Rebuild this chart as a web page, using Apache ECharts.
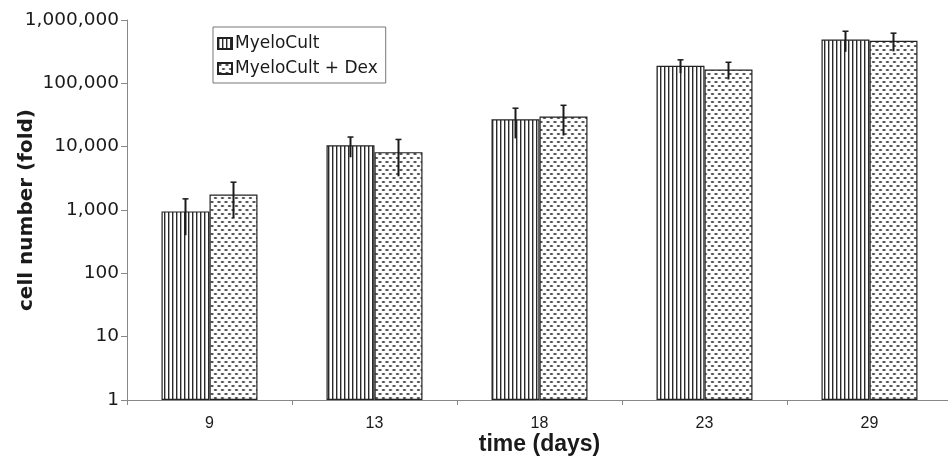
<!DOCTYPE html>
<html>
<head>
<meta charset="utf-8">
<script src="https://cdn.jsdelivr.net/npm/echarts@6/dist/echarts.min.js"></script>
<style>
html,body{margin:0;padding:0;background:#fff;}
#chart{width:948px;height:458px;}
</style>
</head>
<body>
<div id="chart"></div>
<script>
// ---- data ----
var categories = ['9', '13', '18', '23', '29'];
var seriesNames = ['MyeloCult', 'MyeloCult + Dex'];
var myeloCult = [950, 10500, 27000, 190000, 490000];
var myeloCultErr = [550, 3700, 13500, 45000, 175000];
var myeloCultDex = [1750, 8200, 30000, 165000, 470000];
var myeloCultDexErr = [1000, 4800, 15000, 50000, 150000];
var yTicks = [1, 10, 100, 1000, 10000, 100000, 1000000];

// ---- patterns ----
function stripePattern() {
  var c = document.createElement('canvas');
  c.width = 4; c.height = 8;
  var g = c.getContext('2d');
  g.fillStyle = '#ffffff'; g.fillRect(0, 0, 4, 8);
  g.fillStyle = '#2a2a2a'; g.fillRect(0, 0, 1.4, 8);
  return c;
}
function dashPattern() {
  var c = document.createElement('canvas');
  c.width = 7; c.height = 8;
  var g = c.getContext('2d');
  g.fillStyle = '#ffffff'; g.fillRect(0, 0, 7, 8);
  g.fillStyle = '#4a4a4a';
  g.beginPath(); g.ellipse(2, 2, 1.8, 0.9, 0, 0, Math.PI * 2); g.fill();
  g.beginPath(); g.ellipse(5.5, 6, 1.8, 0.9, 0, 0, Math.PI * 2); g.fill();
  g.beginPath(); g.ellipse(-1.5, 6, 1.8, 0.9, 0, 0, Math.PI * 2); g.fill();
  return c;
}

var BAR_W = 48;
var fmt = function (v) { return Math.round(v).toString().replace(/\B(?=(\d{3})+(?!\d))/g, ','); };

function errSeries(values, errs, sign) {
  var data = values.map(function (v, i) { return [i, v - errs[i], v + errs[i]]; });
  return {
    type: 'custom',
    silent: true,
    z: 5,
    data: data,
    renderItem: function (params, api) {
      var lo = api.coord([api.value(0), api.value(1)]);
      var hi = api.coord([api.value(0), api.value(2)]);
      var x = lo[0] + sign * BAR_W / 2;
      return {
        type: 'group',
        children: [
          { type: 'line', shape: { x1: x, y1: lo[1], x2: x, y2: hi[1] }, style: { stroke: '#1a1a1a', lineWidth: 2 } },
          { type: 'line', shape: { x1: x - 3, y1: hi[1], x2: x + 3, y2: hi[1] }, style: { stroke: '#1a1a1a', lineWidth: 1.5 } }
        ]
      };
    }
  };
}

var chart = echarts.init(document.getElementById('chart'), null, { renderer: 'canvas' });
var option = {
  backgroundColor: '#ffffff',
  animation: false,
  grid: { left: 127, top: 20, width: 825, height: 380, containLabel: false, outerBoundsMode: 'none' },
  legend: {
    orient: 'vertical',
    left: 213,
    top: 27,
    padding: [8, 8, 6, 4],
    itemGap: 8,
    itemWidth: 14,
    itemHeight: 11,
    icon: 'rect',
    borderColor: '#777',
    borderWidth: 1,
    data: seriesNames,
    textStyle: { fontFamily: 'DejaVu Sans', fontSize: 17, color: '#1a1a1a', padding: [0, 0, 0, -2] }
  },
  xAxis: {
    type: 'category',
    data: categories,
    boundaryGap: true,
    name: 'time (days)',
    nameLocation: 'middle',
    nameGap: 33,
    nameMoveOverlap: false,
    nameTextStyle: { fontFamily: 'Liberation Sans', fontWeight: 'bold', fontSize: 23, color: '#1a1a1a' },
    axisLine: { lineStyle: { color: '#888', width: 1 } },
    axisTick: { show: true, length: 5, lineStyle: { color: '#888' } },
    axisLabel: { margin: 16, fontFamily: 'Liberation Sans', fontSize: 16, color: '#1a1a1a' }
  },
  yAxis: {
    type: 'log',
    logBase: 10,
    min: yTicks[0],
    max: yTicks[yTicks.length - 1],
    name: 'cell number (fold)',
    nameLocation: 'middle',
    nameGap: 90,
    nameMoveOverlap: false,
    nameTextStyle: { fontFamily: 'DejaVu Sans', fontWeight: 'bold', fontSize: 20, color: '#1a1a1a' },
    axisLine: { show: true, lineStyle: { color: '#888', width: 1 } },
    axisTick: { show: true, length: 6, lineStyle: { color: '#888' } },
    splitLine: { show: false },
    axisLabel: { margin: 8, fontFamily: 'DejaVu Sans', fontSize: 18.5, color: '#1a1a1a', formatter: fmt }
  },
  series: [
    {
      name: seriesNames[0],
      type: 'bar',
      data: myeloCult,
      barWidth: BAR_W,
      barGap: '0%',
      itemStyle: { color: { image: stripePattern(), repeat: 'repeat' }, borderColor: '#222', borderWidth: 1.2 }
    },
    {
      name: seriesNames[1],
      type: 'bar',
      data: myeloCultDex,
      barWidth: BAR_W,
      barGap: '0%',
      itemStyle: { color: { image: dashPattern(), repeat: 'repeat' }, borderColor: '#222', borderWidth: 1.2 }
    },
    errSeries(myeloCult, myeloCultErr, -1),
    errSeries(myeloCultDex, myeloCultDexErr, 1)
  ]
};
chart.setOption(option);
</script>
</body>
</html>
